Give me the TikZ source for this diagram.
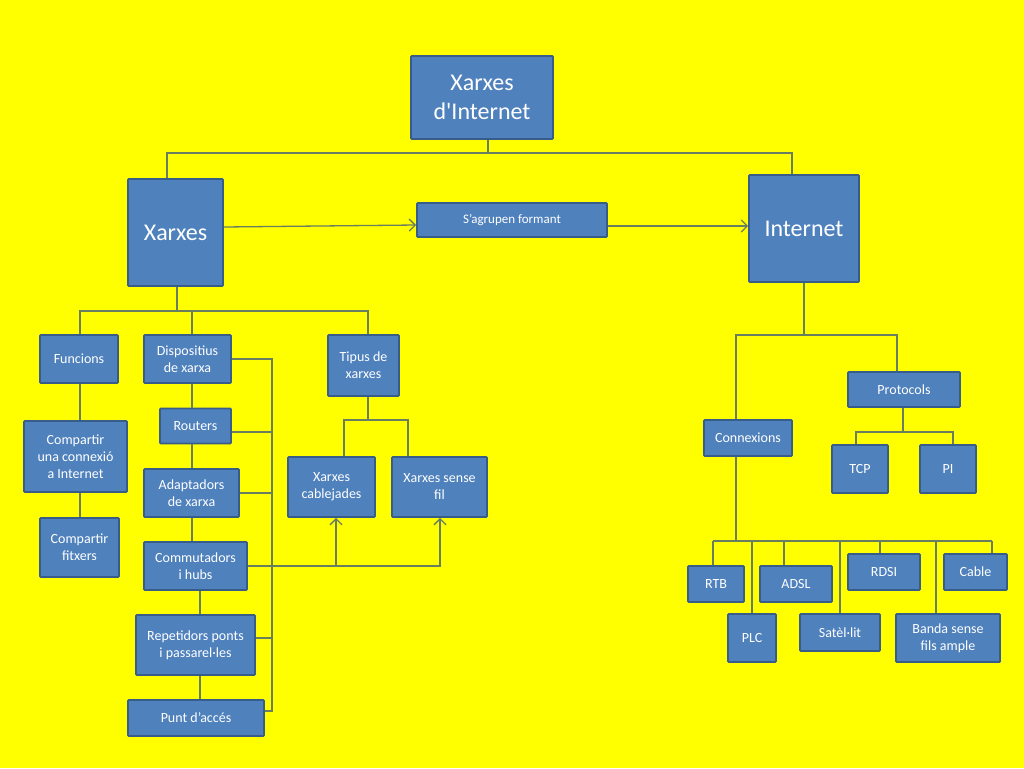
\documentclass[tikz,border=0pt]{standalone}
\usepackage{fontspec}
\setmainfont{Carlito}
\usetikzlibrary{arrows.meta}
\definecolor{bg}{RGB}{255,255,0}
\definecolor{boxfill}{RGB}{79,129,189}
\definecolor{boxline}{RGB}{56,93,138}
\definecolor{conn}{RGB}{105,125,95}
\begin{document}
\begin{tikzpicture}[x=1pt,y=-1pt,
  box/.style={draw=boxline, line width=1.8pt, fill=boxfill, text=white, align=center,
              inner sep=2pt, rounded corners=0.8pt, font=\fontsize{14}{17}\selectfont},
  big/.style={font=\fontsize{24}{29}\selectfont},
  small/.style={font=\fontsize{13}{16}\selectfont},
  link/.style={draw=conn, line width=1.3pt},
  arr/.style={link, -{Straight Barb[length=6pt,width=12pt]}}]
\fill[bg] (0,0) rectangle (1024,768);
\useasboundingbox (0,0) rectangle (1024,768);

% top
\node[box,big,minimum width=142pt,minimum height=83pt] (title) at (482,97.5) {Xarxes\\d\textquotesingle Internet};
\node[box,big,minimum width=95pt,minimum height=107pt] (xarxes) at (175.5,232.5) {Xarxes};
\node[box,small,minimum width=190pt,minimum height=34pt] (sagr) at (512,220) {S’agrupen formant};
\node[box,big,minimum width=110pt,minimum height=107pt] (internet) at (804,228.5) {Internet};

% left subtree
\node[box,minimum width=78pt,minimum height=48pt] (funcions) at (79,359) {Funcions};
\node[box,minimum width=87pt,minimum height=48pt] (disp) at (187.5,359) {Dispositius\\de xarxa};
\node[box,minimum width=71pt,minimum height=61pt] (tipus) at (363.5,365.5) {Tipus de\\xarxes};
\node[box,minimum width=103pt,minimum height=71pt] (compconn) at (75.5,456.5) {Compartir\\una connexió\\a Internet};
\node[box,minimum width=79pt,minimum height=59pt] (compfit) at (79.5,547.5) {Compartir\\fitxers};
\node[box,minimum width=71pt,minimum height=35pt] (routers) at (195.5,426) {Routers};
\node[box,minimum width=95pt,minimum height=48pt] (adapt) at (191.5,493) {Adaptadors\\de xarxa};
\node[box,minimum width=103pt,minimum height=48pt] (commut) at (195.5,566) {Commutadors\\i hubs};
\node[box,minimum width=119pt,minimum height=60pt] (repet) at (195.5,645) {Repetidors ponts\\i passarel·les};
\node[box,minimum width=136pt,minimum height=36pt] (punt) at (196,718) {Punt d’accés};
\node[box,minimum width=87pt,minimum height=60pt] (cabl) at (331.5,487) {Xarxes\\cablejades};
\node[box,minimum width=95pt,minimum height=60pt] (sensefil) at (439.5,487) {Xarxes sense\\fil};

% right subtree
\node[box,minimum width=88pt,minimum height=36pt] (connex) at (748,438) {Connexions};
\node[box,minimum width=112pt,minimum height=35pt] (protocols) at (904,389.5) {Protocols};
\node[box,minimum width=56pt,minimum height=48pt] (tcp) at (860,469) {TCP};
\node[box,minimum width=56pt,minimum height=48pt] (pi) at (948,469) {PI};
\node[box,minimum width=56pt,minimum height=36pt] (rtb) at (716,584) {RTB};
\node[box,minimum width=72pt,minimum height=36pt] (adsl) at (796,584) {ADSL};
\node[box,minimum width=72pt,minimum height=36pt] (rdsi) at (884,572) {RDSI};
\node[box,minimum width=63pt,minimum height=36pt] (cable) at (975.5,572) {Cable};
\node[box,minimum width=48pt,minimum height=48pt] (plc) at (752,638) {PLC};
\node[box,minimum width=80pt,minimum height=37pt] (sat) at (840,632.5) {Satèl·lit};
\node[box,minimum width=104pt,minimum height=48pt] (banda) at (948,638) {Banda sense\\fils ample};

% title tree
\coordinate (tj) at (488,153);
\coordinate (c1) at (167,153);
\coordinate (c2) at (792,153);
\draw[link] (title.south -| tj) -- (tj);
\draw[link] (xarxes.north -| c1) -- (c1) -- (c2) -- (internet.north -| c2);

% arrows through S'agrupen formant
\draw[arr] ([yshift=5.5pt]xarxes.east) -- ([yshift=-5pt]sagr.west);
\draw[arr] ([yshift=-6pt]sagr.east) -- ([yshift=2.5pt]internet.west);

% Xarxes subtree
\coordinate (x0) at (80,311);
\coordinate (x1) at (177,311);
\coordinate (x2) at (192,311);
\coordinate (x3) at (368,311);
\coordinate (x4) at (200,0);
\draw[link] (xarxes.south -| x1) -- (x1);
\draw[link] (funcions.north -| x0) -- (x0) -- (x3) -- (tipus.north -| x3);
\draw[link] (x2) -- (disp.north -| x2);
\draw[link] (funcions.south -| x0) -- (compconn.north -| x0);
\draw[link] (compconn.south -| x0) -- (compfit.north -| x0);
\draw[link] (disp.south -| x2) -- (routers.north -| x2);
\draw[link] (routers.south -| x2) -- (adapt.north -| x2);
\draw[link] (adapt.south -| x2) -- (commut.north -| x2);
\draw[link] (commut.south -| x4) -- (repet.north -| x4);
\draw[link] (repet.south -| x4) -- (punt.north -| x4);

% bracket on the right of the devices
\coordinate (b) at (272,0);
\coordinate (re) at ([yshift=-6pt]routers.east);
\coordinate (pe) at ([yshift=7pt]repet.east);
\coordinate (ue) at ([yshift=7pt]punt.east);
\draw[link] (disp.east) -- (disp.east -| b) -- (ue -| b) -- (ue);
\draw[link] (re) -- (re -| b);
\draw[link] (adapt.east) -- (adapt.east -| b);
\draw[link] (pe) -- (pe -| b);

% Commutadors to network types
\coordinate (ca) at (336,0);
\coordinate (cb) at (440,0);
\draw[arr] (commut.east) -| (sensefil.south -| cb);
\draw[arr] (commut.east -| ca) -- (cabl.south -| ca);

% Tipus subtree
\coordinate (t0) at (344,420);
\coordinate (t1) at (368,420);
\coordinate (t2) at (408,420);
\draw[link] (tipus.south -| t1) -- (t1);
\draw[link] (cabl.north -| t0) -- (t0) -- (t2) -- (sensefil.north -| t2);

% Internet subtree
\coordinate (i0) at (736,335);
\coordinate (i1) at (804,335);
\coordinate (i2) at (897,335);
\draw[link] (internet.south -| i1) -- (i1);
\draw[link] (connex.north -| i0) -- (i0) -- (i2) -- (protocols.north -| i2);

\coordinate (p0) at (856,432);
\coordinate (p1) at (903,432);
\coordinate (p2) at (953,432);
\draw[link] (protocols.south -| p1) -- (p1);
\draw[link] (tcp.north -| p0) -- (p0) -- (p2) -- (pi.north -| p2);

\coordinate (k0) at (713,541);
\coordinate (k1) at (736,541);
\coordinate (k6) at (992,541);
\draw[link] (connex.south -| k1) -- (k1);
\draw[link] (k0) -- (k6);
\foreach \n/\x in {rtb/713, plc/752, adsl/784, sat/840, rdsi/880, banda/936, cable/992}{
  \coordinate (tmp) at (\x,541);
  \draw[link] (tmp) -- (\n.north -| tmp);
}
\end{tikzpicture}
\end{document}
